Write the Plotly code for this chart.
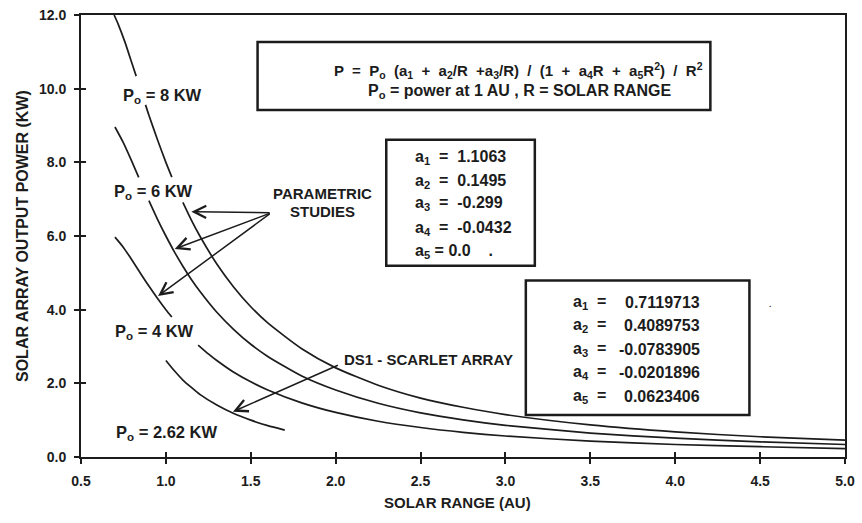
import plotly.graph_objects as go

# ---------------- data ----------------
# Parametric curves (P vs R), None = gaps where the labels sit
R_8KW = [0.695, 0.72, 0.76, 0.80, 0.825, None, 0.88, 0.90, 0.95, 1.00, 1.035, None,
         1.10, 1.15, 1.20, 1.30, 1.40, 1.50, 1.60, 1.80, 2.00, 2.25, 2.50, 2.75, 3.00, 3.50, 4.00, 4.50, 5.00]
P_8KW = [12.0, 11.74, 11.25, 10.69, 10.34, None, 9.56, 9.28, 8.62, 8.00, 7.60, None,
         6.91, 6.43, 6.00, 5.24, 4.61, 4.08, 3.64, 2.94, 2.42, 1.95, 1.60, 1.35, 1.15, 0.87, 0.68, 0.55, 0.46]

R_6KW = [0.70, 0.75, 0.80, 0.84, None, 0.90, 0.95, 1.00, 1.05, 1.10, 1.15, 1.20, 1.30, 1.40,
         1.50, 1.60, 1.80, 2.00, 2.25, 2.50, 2.75, 3.00, 3.50, 4.00, 4.50, 5.00]
P_6KW = [8.96, 8.53, 8.02, 7.59, None, 6.96, 6.46, 6.00, 5.57, 5.18, 4.82, 4.50, 3.93, 3.46,
         3.06, 2.73, 2.20, 1.82, 1.46, 1.20, 1.01, 0.86, 0.65, 0.51, 0.41, 0.34]

R_4KW = [0.70, 0.75, 0.80, 0.85, 0.90, 0.95, 1.00, 1.035, None, 1.19, 1.25, 1.30, 1.40,
         1.50, 1.60, 1.80, 2.00, 2.25, 2.50, 2.75, 3.00, 3.50, 4.00, 4.50, 5.00]
P_4KW = [5.97, 5.69, 5.35, 4.99, 4.64, 4.31, 4.00, 3.80, None, 3.04, 2.80, 2.62, 2.30,
         2.04, 1.82, 1.47, 1.21, 0.97, 0.80, 0.67, 0.57, 0.43, 0.34, 0.28, 0.23]

# DS1 - SCARLET array curve
R_SCARLET = [1.00, 1.05, 1.10, 1.15, 1.20, 1.30, 1.40, 1.50, 1.60, 1.70]
P_SCARLET = [2.62, 2.34, 2.09, 1.89, 1.70, 1.41, 1.18, 1.00, 0.85, 0.73]

X_TICKS = [0.5, 1.0, 1.5, 2.0, 2.5, 3.0, 3.5, 4.0, 4.5, 5.0]
Y_TICKS = [0.0, 2.0, 4.0, 6.0, 8.0, 10.0, 12.0]

COEF_PARAM_LABELS = ["a<sub>1</sub>  =  1.1063", "a<sub>2</sub>  =  0.1495", "a<sub>3</sub>  =  -0.299",
                     "a<sub>4</sub>  =  -0.0432", "a<sub>5</sub> = 0.0    ."]
COEF_SCARLET_NAMES = ["a<sub>1</sub>  =", "a<sub>2</sub>  =", "a<sub>3</sub>  =", "a<sub>4</sub>  =", "a<sub>5</sub>  ="]
COEF_SCARLET_VALUES = ["0.7119713", "0.4089753", "-0.0783905", "-0.0201896", "0.0623406"]

# ---------------- styling ----------------
INK = "#1c1c1c"
FONT = "Liberation Sans"
LW = 1.7

fig = go.Figure()
for R, P in [(R_8KW, P_8KW), (R_6KW, P_6KW), (R_4KW, P_4KW), (R_SCARLET, P_SCARLET)]:
    fig.add_trace(go.Scatter(x=R, y=P, mode="lines", line=dict(color=INK, width=LW, shape="spline", smoothing=0.6),
                             connectgaps=False, hoverinfo="skip", showlegend=False))

# invisible trace on overlay axes (for inward half of crossing ticks)
fig.add_trace(go.Scatter(x=R_SCARLET, y=P_SCARLET, xaxis="x2", yaxis="y2", mode="lines",
                         line=dict(width=0), opacity=0, hoverinfo="skip", showlegend=False))

tickfont = dict(family=FONT, size=14, color=INK, weight="bold")
fig.update_layout(
    width=862, height=523,
    margin=dict(l=81, r=15, t=7, b=66),
    paper_bgcolor="white", plot_bgcolor="white",
    xaxis=dict(range=[0.5, 5.0], tickvals=X_TICKS, ticktext=[f"{v:.1f}" for v in X_TICKS],
               showgrid=False, zeroline=False, showline=True, linewidth=2, linecolor=INK, mirror=True,
               ticks="outside", ticklen=5, tickwidth=1.5, tickcolor=INK, tickfont=tickfont,
               ticklabelstandoff=5),
    yaxis=dict(range=[0, 12], tickvals=Y_TICKS, ticktext=[f"{v:.1f}" for v in Y_TICKS],
               showgrid=False, zeroline=False, showline=True, linewidth=2, linecolor=INK, mirror=True,
               ticks="outside", ticklen=5, tickwidth=1.5, tickcolor=INK, tickfont=tickfont,
               ticklabelstandoff=5),
    xaxis2=dict(range=[0.5, 5.0], overlaying="x", anchor="y2", side="bottom", tickvals=X_TICKS,
                ticks="inside", ticklen=5, tickwidth=1.5, tickcolor=INK, showticklabels=False,
                showgrid=False, zeroline=False, showline=False),
    yaxis2=dict(range=[0, 12], overlaying="y", anchor="x2", side="left", tickvals=Y_TICKS,
                ticks="inside", ticklen=5, tickwidth=1.5, tickcolor=INK, showticklabels=False,
                showgrid=False, zeroline=False, showline=False),
)

# boxes
BOX_EQ = (1.540, 9.42, 4.207, 11.27)
BOX_PARAM = (2.298, 5.19, 3.173, 8.61)
BOX_SCARLET = (3.120, 1.14, 4.437, 4.79)
for x0, y0, x1, y1 in [BOX_EQ, BOX_PARAM, BOX_SCARLET]:
    fig.add_shape(type="rect", xref="x", yref="y", x0=x0, y0=y0, x1=x1, y1=y1,
                  line=dict(color=INK, width=2.5), fillcolor="rgba(0,0,0,0)")

def txt(x, y, text, size=16.5, xanchor="center", **kw):
    fig.add_annotation(x=x, y=y, xref="x", yref="y", text=text, showarrow=False, xanchor=xanchor,
                       yanchor="middle", font=dict(family=FONT, size=size, color=INK, weight="bold"), **kw)

# equation
txt(3.079, 10.50, "P  =  P<sub>o</sub>  (a<sub>1</sub>  +  a<sub>2</sub>/R  +a<sub>3</sub>/R)  /  (1  +  a<sub>4</sub>R  +  a<sub>5</sub>R<sup>2</sup>)  /  R<sup>2</sup>", size=15)
txt(3.085, 9.91, "P<sub>o</sub> = power at 1 AU , R = SOLAR RANGE", size=16)

# coefficient box 1
for yv, t in zip([8.12, 7.49, 6.87, 6.21, 5.58], COEF_PARAM_LABELS):
    txt(2.457, yv, t, size=16, xanchor="left")

# coefficient box 2
for yv, n, v in zip([4.20, 3.57, 2.93, 2.29, 1.63], COEF_SCARLET_NAMES, COEF_SCARLET_VALUES):
    txt(3.385, yv, n, size=16, xanchor="left")
    txt(4.160, yv, v, size=16, xanchor="right")
txt(4.558, 4.13, ".", size=8)

# curve labels
txt(0.735, 9.81, "P<sub>o</sub> = 8 KW", xanchor="left")
txt(0.682, 7.19, "P<sub>o</sub> = 6 KW", xanchor="left")
txt(0.688, 3.39, "P<sub>o</sub> = 4 KW", xanchor="left")
txt(0.694, 0.64, "P<sub>o</sub> = 2.62 KW", xanchor="left")
txt(1.622, 7.16, "PARAMETRIC", size=15, xanchor="left")
txt(1.722, 6.66, "STUDIES", size=15, xanchor="left")
txt(2.039, 2.66, "DS1 - SCARLET ARRAY", size=15, xanchor="left")

# arrows
ARROW_PARAM_FROM = (1.620, 6.63)
ARROW_PARAM_TO = [(1.150, 6.66), (1.052, 5.65), (0.954, 4.37)]
ARROW_DS1_FROM = (2.022, 2.51)
ARROW_DS1_TO = (1.395, 1.23)
for (tx, ty) in ARROW_PARAM_TO + [ARROW_DS1_TO]:
    src = ARROW_DS1_FROM if (tx, ty) == ARROW_DS1_TO else ARROW_PARAM_FROM
    fig.add_annotation(x=tx, y=ty, ax=src[0], ay=src[1], xref="x", yref="y", axref="x", ayref="y",
                       text="", showarrow=True, arrowhead=5, arrowsize=1.6, arrowwidth=1.5,
                       arrowcolor=INK, standoff=0)

# axis titles
fig.add_annotation(x=0, y=0.5, xref="paper", yref="paper", xshift=-59, xanchor="center", yanchor="middle",
                   text="SOLAR ARRAY OUTPUT POWER (KW)", textangle=-90, showarrow=False,
                   font=dict(family=FONT, size=16, color=INK, weight="bold"))
fig.add_annotation(x=2.72, y=0, xref="x", yref="paper", yshift=-45, xanchor="center", yanchor="middle",
                   text="SOLAR RANGE (AU)", showarrow=False,
                   font=dict(family=FONT, size=15, color=INK, weight="bold"))

fig.write_html("out.html")
